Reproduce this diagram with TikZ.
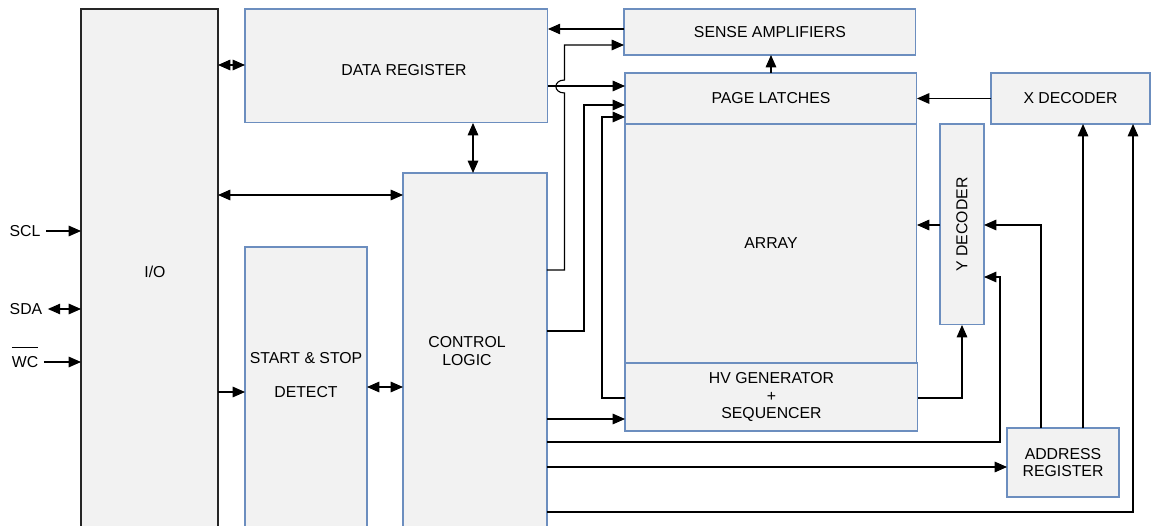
\documentclass[tikz,border=0pt]{standalone}
\usepackage{fontspec}
\setmainfont{Liberation Sans}
\usetikzlibrary{arrows.meta}
\definecolor{blkfill}{HTML}{F2F2F2}
\definecolor{blkline}{HTML}{6C8EBF}
\newcommand\barsig[1]{\setbox0\hbox{#1}\rlap{\smash{\rule[\dimexpr\ht0+5pt\relax]{\wd0}{0.5pt}}}#1}
\tikzset{
  blk/.style={draw=blkline, fill=blkfill, line width=0.6pt, anchor=north west,
    inner sep=0pt, outer sep=0pt, align=center},
  iobox/.style={blk, draw=black!85},
  arr/.style={-{Triangle[length=7pt,width=6pt]}, line width=0.65pt},
  both/.style={{Triangle[length=7pt,width=6pt]}-{Triangle[length=7pt,width=6pt]}, line width=0.65pt},
  sig/.style={inner sep=3pt}
}
\begin{document}
\begin{tikzpicture}[x=0.02cm, y=-0.02cm, font=\fontsize{9}{10}\selectfont]
\useasboundingbox (0,0) rectangle (1151,526);
\clip (0,0) rectangle (1151,526);

\node [iobox, minimum width=2.74cm, minimum height=10.5cm,
  label={[xshift=0.11cm]center:I/O}] (io) at (81,9) {};
\node [blk, minimum width=6.06cm, minimum height=2.28cm,
  label={[xshift=0.15cm, yshift=-0.08cm]center:DATA REGISTER}] (dreg) at (245,9) {};
\node [blk, minimum width=2.44cm, minimum height=5.76cm,
  label={[yshift=0.32cm, align=center]center:START \& STOP\\[9pt]DETECT}] (ssd) at (245,247) {};
\node [blk, minimum width=2.88cm, minimum height=7.24cm,
  label={[xshift=-0.16cm, yshift=0.06cm, align=center]center:CONTROL\\LOGIC}] (ctrl) at (403,173) {};
\node [blk, minimum width=5.84cm, minimum height=0.92cm] (sa) at (624,9) {SENSE AMPLIFIERS};
\node [blk, minimum width=5.84cm, minimum height=1.02cm] (pl) at (625,73) {PAGE LATCHES};
\node [blk, minimum width=5.84cm, minimum height=4.78cm] (arr) at (625,124) {ARRAY};
\node [blk, minimum width=5.86cm, minimum height=1.36cm] (hv) at (625,363) {HV GENERATOR\\+\\SEQUENCER};
\node [blk, minimum width=3.18cm, minimum height=1.02cm] (xdec) at (991,73) {X DECODER};
\node [blk, minimum width=0.88cm, minimum height=4.02cm,
  label={[rotate=90]center:Y DECODER}] (ydec) at (940,124) {};
\node [blk, minimum width=2.24cm, minimum height=1.38cm] (areg) at (1007,428) {ADDRESS\\REGISTER};

\node [sig] (scl) at (25,231) {SCL};
\node [sig] (sda) at (26,309) {SDA};
\node [sig] (wc) at (25,362) {\barsig{WC}};

\draw [arr] (scl) -- (io.west |- scl);
\draw [both] (sda) -- (io.west |- sda);
\draw [arr] (wc) -- (io.west |- wc);

\draw [both] (io.east |- 0,65) -- (dreg.west |- 0,65);
\draw [both] (io.east |- 0,195) -- (ctrl.west |- 0,195);
\draw [both] (dreg.south -| 473,0) -- (ctrl.north -| 473,0);
\draw [arr] (io.east |- 0,392) -- (ssd.west |- 0,392);
\draw [both] (ssd.east |- 0,387) -- (ctrl.west |- 0,387);

\draw [arr] (sa.west |- 0,29) -- (dreg.east |- 0,29);
\draw [arr] (dreg.east |- 0,86) -- (pl.west |- 0,86);
\draw [arr] (ctrl.east |- 0,270) -- (564.5,270) -- (564.5,93)
  .. controls (553,93) and (553,80) .. (564.5,80) -- (564.5,45) -- (sa.west |- 0,45);
\draw [arr] (ctrl.east |- 0,331) -| (584,105) -- (pl.west |- 0,105);
\draw [arr] (hv.west |- 0,398) -| (602,117) -- (pl.west |- 0,117);
\draw [arr] (pl.north) -- (sa.south -| pl.north);
\draw [arr] (xdec.west) -- (pl.east |- xdec.west);
\draw [arr] (ydec.west |- 0,225) -- (arr.east |- 0,225);
\draw [arr] (hv.east |- 0,398) -| (ydec.south);

\draw [arr] (ctrl.east |- 0,419) -- (hv.west |- 0,419);
\draw [arr] (ctrl.east |- 0,442) -| (1000,277) -- (ydec.east |- 0,277);
\draw [arr] (ctrl.east |- 0,467) -- (areg.west |- 0,467);
\draw [arr] (ctrl.east |- 0,512) -| (xdec.south -| 1133,0);
\draw [arr] (areg.north -| 1041,0) |- (ydec.east |- 0,225);
\draw [arr] (areg.north -| 1083,0) -- (xdec.south -| 1083,0);
\end{tikzpicture}
\end{document}
